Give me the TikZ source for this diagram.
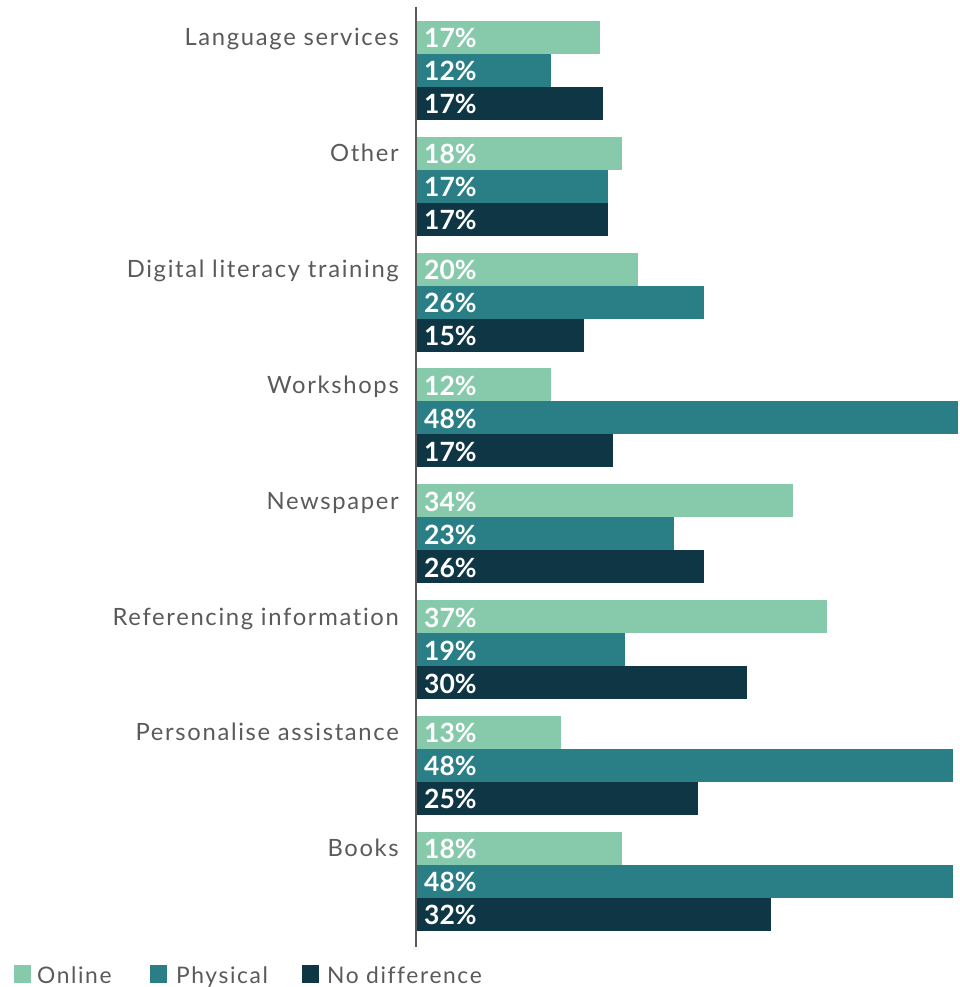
\documentclass[tikz,border=0pt]{standalone}
\usepackage{fontspec}
\setmainfont{Lato}
\newfontfamily\catfont[LetterSpace=7,Ligatures={NoCommon,NoRare}]{Lato}
\definecolor{online}{HTML}{86C9AB}
\definecolor{physical}{HTML}{2A7F87}
\definecolor{nodiff}{HTML}{0E3645}
\definecolor{labgray}{HTML}{5A5A5A}
\begin{document}
\begin{tikzpicture}[x=1pt,y=-1pt,
  pct/.style={anchor=base west, inner sep=0pt, text=white, font=\fontsize{26.5}{26}\selectfont\bfseries},
  cat/.style={anchor=base east, inner sep=0pt, text=labgray, font=\catfont\fontsize{23.8}{24}\selectfont},
  leg/.style={anchor=base west, inner sep=0pt, text=labgray, font=\catfont\fontsize{22.8}{24}\selectfont}]
\useasboundingbox (0,0) rectangle (959,987);
\foreach \i/\name/\a/\va/\b/\vb/\c/\vc in {
  0/Language services/600/17/551/12/603/17,
  1/Other/622/18/608/17/608/17,
  2/Digital literacy training/638/20/704/26/584/15,
  3/Workshops/551/12/958/48/613/17,
  4/Newspaper/793/34/674/23/704/26,
  5/Referencing information/827/37/625/19/747/30,
  6/Personalise assistance/561/13/953/48/698/25,
  7/Books/622/18/953/48/771/32}{
  \pgfmathsetmacro{\t}{21+115.8*\i}
  \fill[online] (417,\t) rectangle (\a,\t+33);
  \fill[physical] (417,\t+33) rectangle (\b,\t+66);
  \fill[nodiff] (417,\t+66) rectangle (\c,\t+99);
  \node[pct] (pa\i) at (424,\t+27) {\va\%};
  \node[pct] (pb\i) at (424,\t+60) {\vb\%};
  \node[pct] (pc\i) at (424,\t+93) {\vc\%};
  \node[cat] (cat\i) at (399,\t+25) {\name};
}
\draw[labgray, line width=2pt] (416,7) -- (416,947);
\fill[online] (14,965) rectangle (31,983);
\node[leg] (l1) at (37,983) {Online};
\fill[physical] (150,965) rectangle (167,983);
\node[leg] (l2) at (176,983) {Physical};
\fill[nodiff] (302,965) rectangle (319,983);
\node[leg] (l3) at (327,983) {No difference};
\end{tikzpicture}
\end{document}
